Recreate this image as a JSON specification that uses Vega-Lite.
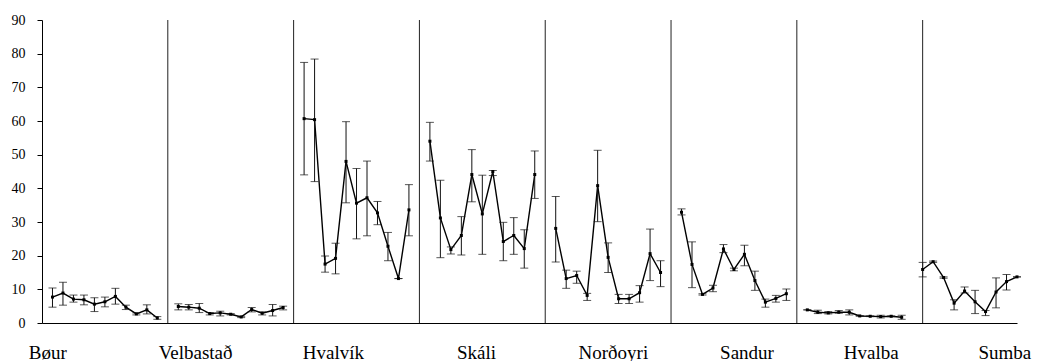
{
  "$schema": "https://vega.github.io/schema/vega-lite/v6.json",
  "width": 975,
  "height": 303,
  "autosize": {"type": "none"},
  "padding": {"left": 42, "top": 20, "right": 24, "bottom": 38},
  "background": "white",
  "config": {
    "view": {"stroke": null},
    "font": "Liberation Serif",
    "axis": {"grid": false, "domain": true, "domainColor": "#000000", "domainWidth": 1, "labelColor": "#000000", "labelFont": "Liberation Serif", "tickColor": "#000000", "title": null},
    "axisLeft": {"labelFontSize": 14, "labelOverlap": false, "tickSize": 5, "labelPadding": 12}
  },
  "datasets": {
    "obs": [
      {"site": "Bøur", "i": 1, "mean": 7.7, "lo": 4.7, "hi": 10.4},
      {"site": "Bøur", "i": 2, "mean": 8.9, "lo": 5.3, "hi": 12.1},
      {"site": "Bøur", "i": 3, "mean": 7.1, "lo": 6.2, "hi": 8.3},
      {"site": "Bøur", "i": 4, "mean": 6.9, "lo": 5.4, "hi": 8.3},
      {"site": "Bøur", "i": 5, "mean": 5.6, "lo": 3.4, "hi": 7.5},
      {"site": "Bøur", "i": 6, "mean": 6.3, "lo": 4.8, "hi": 7.7},
      {"site": "Bøur", "i": 7, "mean": 7.9, "lo": 5.6, "hi": 10.3},
      {"site": "Bøur", "i": 8, "mean": 4.7, "lo": 4.0, "hi": 5.3},
      {"site": "Bøur", "i": 9, "mean": 2.7, "lo": 2.4, "hi": 3.0},
      {"site": "Bøur", "i": 10, "mean": 3.9, "lo": 2.7, "hi": 5.4},
      {"site": "Bøur", "i": 11, "mean": 1.5, "lo": 1.1, "hi": 1.9},
      {"site": "Velbastað", "i": 13, "mean": 4.9, "lo": 3.9, "hi": 5.7},
      {"site": "Velbastað", "i": 14, "mean": 4.7, "lo": 3.9, "hi": 5.5},
      {"site": "Velbastað", "i": 15, "mean": 4.4, "lo": 3.1, "hi": 5.8},
      {"site": "Velbastað", "i": 16, "mean": 2.8, "lo": 2.4, "hi": 3.1},
      {"site": "Velbastað", "i": 17, "mean": 3.0, "lo": 2.1, "hi": 3.5},
      {"site": "Velbastað", "i": 18, "mean": 2.6, "lo": 2.4, "hi": 2.8},
      {"site": "Velbastað", "i": 19, "mean": 1.8, "lo": 1.6, "hi": 2.0},
      {"site": "Velbastað", "i": 20, "mean": 4.0, "lo": 3.3, "hi": 4.6},
      {"site": "Velbastað", "i": 21, "mean": 2.9, "lo": 2.4, "hi": 3.3},
      {"site": "Velbastað", "i": 22, "mean": 3.7, "lo": 2.1, "hi": 5.5},
      {"site": "Velbastað", "i": 23, "mean": 4.6, "lo": 3.9, "hi": 5.0},
      {"site": "Hvalvík", "i": 25, "mean": 60.7, "lo": 44.0, "hi": 77.4},
      {"site": "Hvalvík", "i": 26, "mean": 60.4, "lo": 42.0, "hi": 78.4},
      {"site": "Hvalvík", "i": 27, "mean": 17.5, "lo": 15.1, "hi": 19.9},
      {"site": "Hvalvík", "i": 28, "mean": 19.2, "lo": 14.6, "hi": 23.7},
      {"site": "Hvalvík", "i": 29, "mean": 48.0, "lo": 35.7, "hi": 59.8},
      {"site": "Hvalvík", "i": 30, "mean": 35.6, "lo": 25.0, "hi": 45.9},
      {"site": "Hvalvík", "i": 31, "mean": 37.2, "lo": 25.9, "hi": 48.1},
      {"site": "Hvalvík", "i": 32, "mean": 32.7, "lo": 29.2, "hi": 36.1},
      {"site": "Hvalvík", "i": 33, "mean": 22.8, "lo": 18.5, "hi": 26.9},
      {"site": "Hvalvík", "i": 34, "mean": 13.2, "lo": 13.2, "hi": 13.2},
      {"site": "Hvalvík", "i": 35, "mean": 33.6, "lo": 25.9, "hi": 41.1},
      {"site": "Skáli", "i": 37, "mean": 54.0, "lo": 48.1, "hi": 59.6},
      {"site": "Skáli", "i": 38, "mean": 31.2, "lo": 19.4, "hi": 42.4},
      {"site": "Skáli", "i": 39, "mean": 21.8, "lo": 20.5, "hi": 22.6},
      {"site": "Skáli", "i": 40, "mean": 26.0, "lo": 20.2, "hi": 31.6},
      {"site": "Skáli", "i": 41, "mean": 44.1, "lo": 36.0, "hi": 51.5},
      {"site": "Skáli", "i": 42, "mean": 32.4, "lo": 20.4, "hi": 43.9},
      {"site": "Skáli", "i": 43, "mean": 45.0, "lo": 43.8, "hi": 45.3},
      {"site": "Skáli", "i": 44, "mean": 24.2, "lo": 18.5, "hi": 29.9},
      {"site": "Skáli", "i": 45, "mean": 26.0, "lo": 20.4, "hi": 31.3},
      {"site": "Skáli", "i": 46, "mean": 22.1, "lo": 16.3, "hi": 27.7},
      {"site": "Skáli", "i": 47, "mean": 44.1, "lo": 37.0, "hi": 51.1},
      {"site": "Norðoyri", "i": 49, "mean": 28.1, "lo": 18.1, "hi": 37.6},
      {"site": "Norðoyri", "i": 50, "mean": 13.2, "lo": 10.3, "hi": 15.7},
      {"site": "Norðoyri", "i": 51, "mean": 14.1, "lo": 11.8, "hi": 15.4},
      {"site": "Norðoyri", "i": 52, "mean": 8.2, "lo": 6.7, "hi": 8.8},
      {"site": "Norðoyri", "i": 53, "mean": 40.8, "lo": 30.1, "hi": 51.3},
      {"site": "Norðoyri", "i": 54, "mean": 19.5, "lo": 15.0, "hi": 23.8},
      {"site": "Norðoyri", "i": 55, "mean": 7.2, "lo": 5.8, "hi": 8.5},
      {"site": "Norðoyri", "i": 56, "mean": 7.2, "lo": 5.8, "hi": 8.5},
      {"site": "Norðoyri", "i": 57, "mean": 9.0, "lo": 6.2, "hi": 11.1},
      {"site": "Norðoyri", "i": 58, "mean": 20.6, "lo": 12.6, "hi": 27.9},
      {"site": "Norðoyri", "i": 59, "mean": 15.0, "lo": 10.8, "hi": 18.5},
      {"site": "Sandur", "i": 61, "mean": 32.9, "lo": 32.1, "hi": 33.9},
      {"site": "Sandur", "i": 62, "mean": 17.4, "lo": 10.5, "hi": 24.1},
      {"site": "Sandur", "i": 63, "mean": 8.5, "lo": 8.3, "hi": 8.7},
      {"site": "Sandur", "i": 64, "mean": 10.4, "lo": 9.3, "hi": 11.2},
      {"site": "Sandur", "i": 65, "mean": 22.0, "lo": 20.9, "hi": 23.3},
      {"site": "Sandur", "i": 66, "mean": 15.9, "lo": 15.5, "hi": 16.3},
      {"site": "Sandur", "i": 67, "mean": 20.4, "lo": 17.0, "hi": 23.1},
      {"site": "Sandur", "i": 68, "mean": 12.6, "lo": 9.7, "hi": 15.4},
      {"site": "Sandur", "i": 69, "mean": 6.2, "lo": 4.7, "hi": 7.1},
      {"site": "Sandur", "i": 70, "mean": 7.3, "lo": 6.2, "hi": 8.2},
      {"site": "Sandur", "i": 71, "mean": 8.7, "lo": 6.7, "hi": 10.1},
      {"site": "Hvalba", "i": 73, "mean": 3.9, "lo": 3.9, "hi": 3.9},
      {"site": "Hvalba", "i": 74, "mean": 3.2, "lo": 2.8, "hi": 3.8},
      {"site": "Hvalba", "i": 75, "mean": 3.0, "lo": 2.7, "hi": 3.4},
      {"site": "Hvalba", "i": 76, "mean": 3.2, "lo": 2.9, "hi": 3.7},
      {"site": "Hvalba", "i": 77, "mean": 3.2, "lo": 2.4, "hi": 3.9},
      {"site": "Hvalba", "i": 78, "mean": 2.1, "lo": 2.0, "hi": 2.2},
      {"site": "Hvalba", "i": 79, "mean": 2.0, "lo": 1.9, "hi": 2.1},
      {"site": "Hvalba", "i": 80, "mean": 1.9, "lo": 1.5, "hi": 2.3},
      {"site": "Hvalba", "i": 81, "mean": 2.0, "lo": 1.9, "hi": 2.1},
      {"site": "Hvalba", "i": 82, "mean": 1.7, "lo": 1.1, "hi": 2.3},
      {"site": "Sumba", "i": 84, "mean": 15.9, "lo": 13.7, "hi": 18.0},
      {"site": "Sumba", "i": 85, "mean": 18.2, "lo": 18.0, "hi": 18.4},
      {"site": "Sumba", "i": 86, "mean": 13.5, "lo": 13.3, "hi": 13.7},
      {"site": "Sumba", "i": 87, "mean": 5.9, "lo": 3.9, "hi": 6.9},
      {"site": "Sumba", "i": 88, "mean": 9.5, "lo": 8.9, "hi": 10.7},
      {"site": "Sumba", "i": 89, "mean": 6.3, "lo": 2.8, "hi": 9.7},
      {"site": "Sumba", "i": 90, "mean": 3.4, "lo": 2.2, "hi": 3.7},
      {"site": "Sumba", "i": 91, "mean": 9.2, "lo": 4.5, "hi": 13.4},
      {"site": "Sumba", "i": 92, "mean": 12.3, "lo": 9.8, "hi": 14.4},
      {"site": "Sumba", "i": 93, "mean": 13.7, "lo": 13.7, "hi": 13.7}
    ],
    "separators": [
      {"i": 12, "bottom": 0, "top": 90}, {"i": 24, "bottom": 0, "top": 90}, {"i": 36, "bottom": 0, "top": 90},
      {"i": 48, "bottom": 0, "top": 90}, {"i": 60, "bottom": 0, "top": 90}, {"i": 72, "bottom": 0, "top": 90},
      {"i": 84, "bottom": 0, "top": 90}
    ]
  },
  "encoding": {
    "x": {"field": "i", "type": "quantitative",
      "scale": {"domain": [0, 93], "nice": false, "zero": false},
      "axis": {
        "values": [0.5, 14.6, 27.75, 41.4, 54.45, 67.2, 79.05, 91.8],
        "labelExpr": "datum.value < 5 ? 'Bøur' : datum.value < 20 ? 'Velbastað' : datum.value < 35 ? 'Hvalvík' : datum.value < 48 ? 'Skáli' : datum.value < 60 ? 'Norðoyri' : datum.value < 72 ? 'Sandur' : datum.value < 85 ? 'Hvalba' : 'Sumba'",
        "title": null, "grid": false, "ticks": false, "tickSize": 0, "domain": true, "domainColor": "#000000",
        "labelFont": "Liberation Serif", "labelFontSize": 19, "labelColor": "#000000",
        "labelBaseline": "alphabetic", "labelPadding": 35, "labelAlign": "center",
        "labelFlush": false, "labelOverlap": false, "labelBound": false
      }},
    "y": {"field": "mean", "type": "quantitative",
      "scale": {"domain": [0, 90], "nice": false, "zero": true},
      "axis": {
        "values": [0, 10, 20, 30, 40, 50, 60, 70, 80, 90],
        "labelExpr": "datum.label",
        "title": null, "grid": false, "domain": true, "domainColor": "#000000", "domainWidth": 1,
        "ticks": true, "tickSize": 5, "tickColor": "#000000", "tickWidth": 1,
        "labelFont": "Liberation Serif", "labelFontSize": 14, "labelColor": "#000000",
        "labelPadding": 12, "labelOverlap": false, "labelFlush": false, "labelBound": false, "labelSeparation": 0
      }}
  },
  "layer": [
    {
      "data": {"name": "obs"},
      "mark": {"type": "line", "color": "#000000", "strokeWidth": 1.4},
      "encoding": {
        "detail": {"field": "site"}
      }
    },
    {
      "data": {"name": "obs"},
      "mark": {"type": "rule", "color": "#111111", "strokeWidth": 1},
      "encoding": {
        "y": {"field": "lo", "type": "quantitative"},
        "y2": {"field": "hi"}
      }
    },
    {
      "data": {"name": "separators"},
      "mark": {"type": "rule", "color": "#222222", "strokeWidth": 1},
      "encoding": {
        "y": {"field": "bottom", "type": "quantitative"},
        "y2": {"field": "top"}
      }
    },
    {
      "data": {"name": "obs"},
      "mark": {"type": "tick", "orient": "horizontal", "color": "#111111", "size": 8, "thickness": 1},
      "encoding": {
        "y": {"field": "lo", "type": "quantitative"}
      }
    },
    {
      "data": {"name": "obs"},
      "mark": {"type": "tick", "orient": "horizontal", "color": "#111111", "size": 8, "thickness": 1},
      "encoding": {
        "y": {"field": "hi", "type": "quantitative"}
      }
    },
    {
      "data": {"name": "obs"},
      "mark": {"type": "square", "color": "#000000", "filled": true, "size": 9, "opacity": 1},
      "encoding": {}
    }
  ]
}
